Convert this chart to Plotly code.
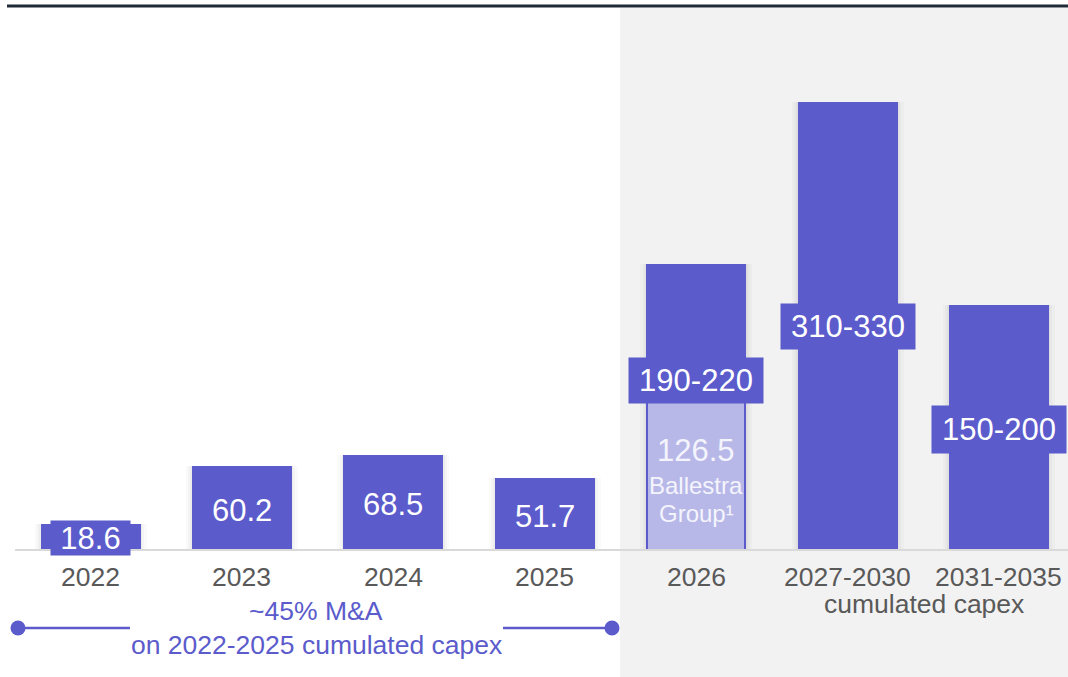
import plotly.graph_objects as go

# ---- data ----
categories = ["2022", "2023", "2024", "2025", "2026", "2027-2030", "2031-2035"]
capex_values = [18.6, 60.2, 68.5, 51.7, 206, 322, 176]
value_labels = ["18.6", "60.2", "68.5", "51.7", "190-220", "310-330", "150-200"]
ballestra_value = 126.5
ballestra_label = "126.5"

# ---- styling ----
W, H = 1068, 677
BAR = "#5b5bcc"
LIGHT = "#b8b8e8"
GREY_TXT = "#595959"
FONT = "Liberation Sans, Arial, sans-serif"
BASE_PX = 550          # pixel row of the zero line
PX_PER_UNIT = 1.39     # vertical scale
X0_PX, STEP_PX = 90.5, 151.4
BAR_W = 100 / STEP_PX
IDX_2026 = categories.index("2026")


def px_x(px):
    return px / W


def px_y(py):
    return 1 - py / H


def val_y(py):
    return (BASE_PX - py) / PX_PER_UNIT


fig = go.Figure()

# soft shadows around the bars
for extra, alpha in [(12, 0.018), (7, 0.025), (3, 0.03)]:
    fig.add_trace(go.Bar(
        x=categories, y=capex_values, width=BAR_W + extra / STEP_PX,
        marker=dict(color=f"rgba(0,0,0,{alpha})", line=dict(width=0)),
        hoverinfo="skip", showlegend=False,
    ))

fig.add_trace(go.Bar(
    x=categories, y=capex_values, width=BAR_W,
    marker=dict(color=BAR, line=dict(width=0)),
    showlegend=False,
))

# Ballestra Group share of 2026
fig.add_trace(go.Bar(
    x=["2026"], y=[ballestra_value], width=BAR_W - 2 / STEP_PX,
    marker=dict(color=LIGHT, line=dict(color=BAR, width=2)),
    showlegend=False,
))

shapes = [
    # shaded outlook panel
    dict(type="rect", xref="paper", yref="paper", x0=px_x(620), x1=1,
         y0=0, y1=px_y(8), fillcolor="#f2f2f2", line=dict(width=0), layer="below"),
    # top rule
    dict(type="line", xref="paper", yref="paper", x0=px_x(7), x1=1,
         y0=px_y(6), y1=px_y(6), line=dict(color="#1f2a36", width=3)),
    # zero line
    dict(type="line", xref="paper", yref="y", x0=px_x(15), x1=1,
         y0=0, y1=0, line=dict(color="#d9d9d9", width=2), layer="above"),
    # M&A bracket
    dict(type="line", xref="paper", yref="paper", x0=px_x(18), x1=px_x(130),
         y0=px_y(628), y1=px_y(628), line=dict(color=BAR, width=2.5)),
    dict(type="line", xref="paper", yref="paper", x0=px_x(503), x1=px_x(612),
         y0=px_y(628), y1=px_y(628), line=dict(color=BAR, width=2.5)),
]
for cx in (18, 612):
    r = 7.5
    shapes.append(dict(type="circle", xref="paper", yref="paper",
                       x0=px_x(cx - r), x1=px_x(cx + r),
                       y0=px_y(628 + r), y1=px_y(628 - r),
                       fillcolor=BAR, line=dict(width=0)))

annotations = []

# value labels: (center y px, boxed, box width, box height)
label_pos = [
    (538, True, 79, 34),
    (510, False, 0, 0),
    (504, False, 0, 0),
    (516, False, 0, 0),
    (380, True, 134, 45),
    (326, True, 134, 45),
    (429, True, 134, 47),
]
for i, (txt, (cy, boxed, bw, bh)) in enumerate(zip(value_labels, label_pos)):
    a = dict(x=i, y=val_y(cy), xref="x", yref="y", text=txt, showarrow=False,
             font=dict(family=FONT, size=31, color="white"),
             xanchor="center", yanchor="middle")
    if boxed:
        a.update(bgcolor=BAR, width=bw, height=bh, borderpad=0)
    annotations.append(a)

for txt, cy, size in [(ballestra_label, 450, 31), ("Ballestra", 485, 24),
                      ("Group¹", 513, 24)]:
    annotations.append(dict(x=IDX_2026, y=val_y(cy), xref="x", yref="y", text=txt,
                            showarrow=False, xanchor="center", yanchor="middle",
                            font=dict(family=FONT, size=size, color="#f4f4fc")))

# category labels under the zero line
for i, cat in enumerate(categories):
    annotations.append(dict(x=i, y=val_y(577), xref="x", yref="y", text=cat,
                            showarrow=False, xanchor="center", yanchor="middle",
                            font=dict(family=FONT, size=26.5, color=GREY_TXT)))
annotations.append(dict(x=px_x(924), y=px_y(604), xref="paper", yref="paper",
                        text="cumulated capex", showarrow=False,
                        xanchor="center", yanchor="middle",
                        font=dict(family=FONT, size=26.5, color=GREY_TXT)))

# M&A note
for txt, cy in [("~45% M&A", 611), ("on 2022-2025 cumulated capex", 645)]:
    annotations.append(dict(x=px_x(316), y=px_y(cy), xref="paper", yref="paper",
                            text=txt, showarrow=False,
                            xanchor="center", yanchor="middle",
                            font=dict(family=FONT, size=26.5, color=BAR)))

fig.update_layout(
    width=W, height=H,
    margin=dict(l=0, r=0, t=0, b=0),
    paper_bgcolor="white", plot_bgcolor="rgba(0,0,0,0)",
    barmode="overlay", bargap=0,
    shapes=shapes, annotations=annotations,
    xaxis=dict(type="category", range=[-X0_PX / STEP_PX, (W - X0_PX) / STEP_PX],
               visible=False, fixedrange=True),
    yaxis=dict(range=[val_y(H), val_y(0)], visible=False, fixedrange=True),
    font=dict(family=FONT),
)

fig.write_html("out.html")
